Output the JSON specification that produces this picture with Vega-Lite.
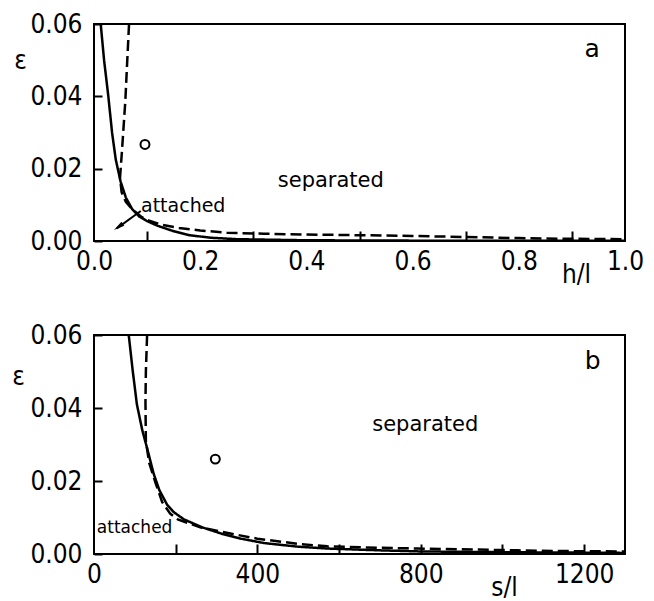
{
  "$schema": "https://vega.github.io/schema/vega-lite/v6.json",
  "background": "white",
  "padding": {"left": 10, "top": 10, "right": 10, "bottom": 0},
  "spacing": 33,
  "datasets": {
    "topCurves": [
      {"h": 0.0126, "eps": 0.06, "curve": "solid"},
      {"h": 0.019, "eps": 0.05, "curve": "solid"},
      {"h": 0.027, "eps": 0.04, "curve": "solid"},
      {"h": 0.034, "eps": 0.03, "curve": "solid"},
      {"h": 0.041, "eps": 0.0225, "curve": "solid"},
      {"h": 0.05, "eps": 0.0165, "curve": "solid"},
      {"h": 0.06, "eps": 0.012, "curve": "solid"},
      {"h": 0.072, "eps": 0.0088, "curve": "solid"},
      {"h": 0.085, "eps": 0.0068, "curve": "solid"},
      {"h": 0.1, "eps": 0.0055, "curve": "solid"},
      {"h": 0.12, "eps": 0.0042, "curve": "solid"},
      {"h": 0.15, "eps": 0.0027, "curve": "solid"},
      {"h": 0.18, "eps": 0.0016, "curve": "solid"},
      {"h": 0.22, "eps": 0.0009, "curve": "solid"},
      {"h": 0.27, "eps": 0.0005, "curve": "solid"},
      {"h": 0.4, "eps": 0.0002, "curve": "solid"},
      {"h": 0.6, "eps": 0.0001, "curve": "solid"},
      {"h": 1.0, "eps": 0.0001, "curve": "solid"},
      {"h": 0.066, "eps": 0.06, "curve": "dashed"},
      {"h": 0.062, "eps": 0.048, "curve": "dashed"},
      {"h": 0.059, "eps": 0.0387, "curve": "dashed"},
      {"h": 0.055, "eps": 0.03, "curve": "dashed"},
      {"h": 0.052, "eps": 0.0235, "curve": "dashed"},
      {"h": 0.049, "eps": 0.0175, "curve": "dashed"},
      {"h": 0.052, "eps": 0.0135, "curve": "dashed"},
      {"h": 0.06, "eps": 0.0108, "curve": "dashed"},
      {"h": 0.072, "eps": 0.0088, "curve": "dashed"},
      {"h": 0.09, "eps": 0.0066, "curve": "dashed"},
      {"h": 0.104, "eps": 0.0056, "curve": "dashed"},
      {"h": 0.13, "eps": 0.0044, "curve": "dashed"},
      {"h": 0.16, "eps": 0.0036, "curve": "dashed"},
      {"h": 0.2, "eps": 0.0029, "curve": "dashed"},
      {"h": 0.25, "eps": 0.0023, "curve": "dashed"},
      {"h": 0.32, "eps": 0.002, "curve": "dashed"},
      {"h": 0.4, "eps": 0.0018, "curve": "dashed"},
      {"h": 0.5, "eps": 0.0016, "curve": "dashed"},
      {"h": 0.6, "eps": 0.0014, "curve": "dashed"},
      {"h": 0.7, "eps": 0.0011, "curve": "dashed"},
      {"h": 0.8, "eps": 0.0008, "curve": "dashed"},
      {"h": 0.9, "eps": 0.0006, "curve": "dashed"},
      {"h": 1.0, "eps": 0.0005, "curve": "dashed"}
    ],
    "botCurves": [
      {"s": 85, "eps": 0.06, "curve": "solid"},
      {"s": 95, "eps": 0.05, "curve": "solid"},
      {"s": 105, "eps": 0.041, "curve": "solid"},
      {"s": 118, "eps": 0.034, "curve": "solid"},
      {"s": 130, "eps": 0.029, "curve": "solid"},
      {"s": 146, "eps": 0.022, "curve": "solid"},
      {"s": 160, "eps": 0.0175, "curve": "solid"},
      {"s": 179, "eps": 0.0135, "curve": "solid"},
      {"s": 195, "eps": 0.0115, "curve": "solid"},
      {"s": 220, "eps": 0.0095, "curve": "solid"},
      {"s": 265, "eps": 0.0073, "curve": "solid"},
      {"s": 314, "eps": 0.0055, "curve": "solid"},
      {"s": 360, "eps": 0.0042, "curve": "solid"},
      {"s": 416, "eps": 0.003, "curve": "solid"},
      {"s": 500, "eps": 0.002, "curve": "solid"},
      {"s": 571, "eps": 0.0015, "curve": "solid"},
      {"s": 700, "eps": 0.001, "curve": "solid"},
      {"s": 800, "eps": 0.0007, "curve": "solid"},
      {"s": 1000, "eps": 0.0005, "curve": "solid"},
      {"s": 1300, "eps": 0.0003, "curve": "solid"},
      {"s": 130, "eps": 0.06, "curve": "dashed"},
      {"s": 127, "eps": 0.05, "curve": "dashed"},
      {"s": 126, "eps": 0.0416, "curve": "dashed"},
      {"s": 127, "eps": 0.031, "curve": "dashed"},
      {"s": 135, "eps": 0.025, "curve": "dashed"},
      {"s": 150, "eps": 0.0197, "curve": "dashed"},
      {"s": 167, "eps": 0.0142, "curve": "dashed"},
      {"s": 187, "eps": 0.011, "curve": "dashed"},
      {"s": 205, "eps": 0.0095, "curve": "dashed"},
      {"s": 230, "eps": 0.0085, "curve": "dashed"},
      {"s": 260, "eps": 0.0073, "curve": "dashed"},
      {"s": 334, "eps": 0.0056, "curve": "dashed"},
      {"s": 400, "eps": 0.0042, "curve": "dashed"},
      {"s": 497, "eps": 0.0028, "curve": "dashed"},
      {"s": 571, "eps": 0.0021, "curve": "dashed"},
      {"s": 700, "eps": 0.0017, "curve": "dashed"},
      {"s": 792, "eps": 0.0015, "curve": "dashed"},
      {"s": 900, "eps": 0.0013, "curve": "dashed"},
      {"s": 1037, "eps": 0.001, "curve": "dashed"},
      {"s": 1150, "eps": 0.0008, "curve": "dashed"},
      {"s": 1300, "eps": 0.0007, "curve": "dashed"}
    ],
    "topPoint": [{"h": 0.096, "eps": 0.0267}],
    "botPoint": [{"s": 297, "eps": 0.026}],
    "topArrow": [
      {"h": 0.088, "eps": 0.0083},
      {"h": 0.043, "eps": 0.0035}
    ],
    "topArrowHead": [{"h": 0.046, "eps": 0.0039}],
    "topLabels": [
      {"h": 0.446, "eps": 0.0166, "label": "separated", "size": 21},
      {"h": 0.938, "eps": 0.0531, "label": "a", "size": 25}
    ],
    "topAttached": [{"h": 0.0885, "eps": 0.0097, "label": "attached"}],
    "botLabels": [
      {"s": 811, "eps": 0.0353, "label": "separated", "size": 21},
      {"s": 1221, "eps": 0.0529, "label": "b", "size": 25}
    ],
    "botAttached": [{"s": 7, "eps": 0.0071, "label": "attached"}]
  },
  "config": {
    "view": {"stroke": "black", "strokeWidth": 2},
    "axis": {
      "labelFont": "DejaVu Sans Condensed, sans-serif",
      "titleFont": "DejaVu Sans Condensed, sans-serif",
      "labelFontSize": 26,
      "titleFontSize": 26,
      "labelColor": "black",
      "titleColor": "black",
      "titleFontWeight": "normal",
      "tickColor": "black",
      "tickWidth": 2,
      "domain": false,
      "grid": false
    },
    "text": {"font": "DejaVu Sans", "color": "black"}
  },
  "vconcat": [
    {
      "width": 531,
      "height": 217,
      "layer": [
        {
          "data": {"name": "topCurves"},
          "mark": {"type": "line", "color": "black", "strokeWidth": 2.5, "clip": true},
          "encoding": {
            "x": {
              "field": "h", "type": "quantitative",
              "scale": {"domain": [0, 1], "nice": false, "zero": false},
              "axis": {
                "values": [0, 0.1, 0.2, 0.3, 0.4, 0.5, 0.6, 0.7, 0.8, 0.9, 1.0],
                "labelExpr": "round(datum.value*10) % 2 == 0 ? format(datum.value, '.1f') : ''",
                "tickOpacity": {"condition": {"test": "round(datum.value*10) % 2 == 1", "value": 1}, "value": 0},
                "tickSize": -10,
                "labelPadding": 17,
                "labelFlush": false,
                "title": "h/l",
                "titleX": 482,
                "titleY": 33,
                "titleAlign": "center",
                "titleBaseline": "middle"
              }
            },
            "y": {
              "field": "eps", "type": "quantitative",
              "scale": {"domain": [0, 0.06], "nice": false},
              "axis": {
                "values": [0, 0.02, 0.04, 0.06],
                "format": ".2f",
                "tickSize": -8,
                "labelPadding": 20,
                "labelFlush": false,
                "title": "ε",
                "titleAngle": 0,
                "titleX": -74,
                "titleY": 36,
                "titleAlign": "center",
                "titleBaseline": "middle"
              }
            },
            "detail": {"field": "curve"},
            "order": {"value": null},
            "strokeDash": {
              "field": "curve", "type": "nominal",
              "scale": {"domain": ["solid", "dashed"], "range": [[1, 0], [11, 5]]},
              "legend": null
            }
          }
        },
        {
          "data": {"name": "topPoint"},
          "mark": {"type": "point", "shape": "circle", "filled": false, "color": "black", "opacity": 1, "strokeWidth": 2, "size": 80},
          "encoding": {
            "x": {"field": "h", "type": "quantitative"},
            "y": {"field": "eps", "type": "quantitative"}
          }
        },
        {
          "data": {"name": "topArrow"},
          "mark": {"type": "line", "color": "black", "strokeWidth": 2},
          "encoding": {
            "x": {"field": "h", "type": "quantitative"},
            "y": {"field": "eps", "type": "quantitative"}
          }
        },
        {
          "data": {"name": "topArrowHead"},
          "mark": {"type": "point", "shape": "M0,-1L0.45,1L-0.45,1Z", "filled": true, "color": "black", "opacity": 1, "size": 120, "angle": 234},
          "encoding": {
            "x": {"field": "h", "type": "quantitative"},
            "y": {"field": "eps", "type": "quantitative"}
          }
        },
        {
          "data": {"name": "topLabels"},
          "mark": {"type": "text", "align": "center", "baseline": "middle"},
          "encoding": {
            "x": {"field": "h", "type": "quantitative"},
            "y": {"field": "eps", "type": "quantitative"},
            "text": {"field": "label"},
            "size": {"field": "size", "type": "quantitative", "scale": null}
          }
        },
        {
          "data": {"name": "topAttached"},
          "mark": {"type": "text", "align": "left", "baseline": "middle", "fontSize": 19},
          "encoding": {
            "x": {"field": "h", "type": "quantitative"},
            "y": {"field": "eps", "type": "quantitative"},
            "text": {"field": "label"}
          }
        }
      ]
    },
    {
      "width": 531,
      "height": 219,
      "layer": [
        {
          "data": {"name": "botCurves"},
          "mark": {"type": "line", "color": "black", "strokeWidth": 2.5, "clip": true},
          "encoding": {
            "x": {
              "field": "s", "type": "quantitative",
              "scale": {"domain": [0, 1300], "nice": false, "zero": false},
              "axis": {
                "values": [0, 200, 400, 600, 800, 1000, 1200],
                "labelExpr": "datum.value % 400 == 0 ? format(datum.value, 'd') : ''",
                "tickOpacity": {"condition": {"test": "datum.value == 0", "value": 0}, "value": 1},
                "tickSize": -10,
                "labelPadding": 17,
                "labelFlush": false,
                "title": "s/l",
                "titleX": 410,
                "titleY": 33,
                "titleAlign": "center",
                "titleBaseline": "middle"
              }
            },
            "y": {
              "field": "eps", "type": "quantitative",
              "scale": {"domain": [0, 0.06], "nice": false},
              "axis": {
                "values": [0, 0.02, 0.04, 0.06],
                "format": ".2f",
                "tickSize": -8,
                "labelPadding": 20,
                "labelFlush": false,
                "title": "ε",
                "titleAngle": 0,
                "titleX": -76,
                "titleY": 41,
                "titleAlign": "center",
                "titleBaseline": "middle"
              }
            },
            "detail": {"field": "curve"},
            "order": {"value": null},
            "strokeDash": {
              "field": "curve", "type": "nominal",
              "scale": {"domain": ["solid", "dashed"], "range": [[1, 0], [11, 5]]},
              "legend": null
            }
          }
        },
        {
          "data": {"name": "botPoint"},
          "mark": {"type": "point", "shape": "circle", "filled": false, "color": "black", "opacity": 1, "strokeWidth": 2, "size": 80},
          "encoding": {
            "x": {"field": "s", "type": "quantitative"},
            "y": {"field": "eps", "type": "quantitative"}
          }
        },
        {
          "data": {"name": "botLabels"},
          "mark": {"type": "text", "align": "center", "baseline": "middle"},
          "encoding": {
            "x": {"field": "s", "type": "quantitative"},
            "y": {"field": "eps", "type": "quantitative"},
            "text": {"field": "label"},
            "size": {"field": "size", "type": "quantitative", "scale": null}
          }
        },
        {
          "data": {"name": "botAttached"},
          "mark": {"type": "text", "align": "left", "baseline": "middle", "fontSize": 17},
          "encoding": {
            "x": {"field": "s", "type": "quantitative"},
            "y": {"field": "eps", "type": "quantitative"},
            "text": {"field": "label"}
          }
        }
      ]
    }
  ]
}
